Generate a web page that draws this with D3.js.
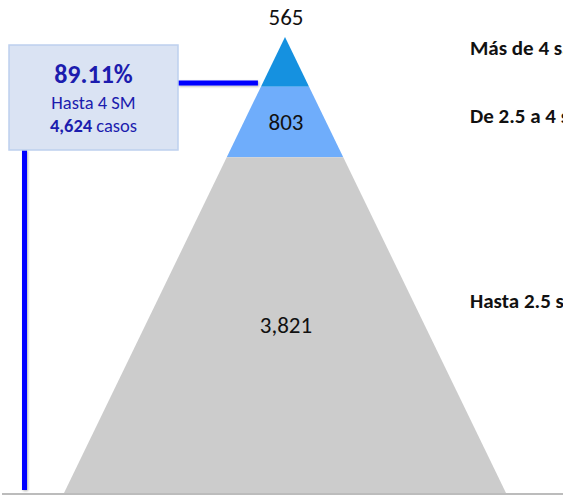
<!DOCTYPE html>
<html>
<head>
<meta charset="utf-8">
<script src="https://cdn.jsdelivr.net/npm/d3@7"></script>
<style>
    html, body { margin: 0; padding: 0; background: #fff; overflow: hidden; }
    svg { display: block; font-family: Carlito, Calibri, Lato, 'Open Sans', sans-serif; }
</style>
</head>
<body>
<div id="chart"></div>
<script>
// Data
const categories = ['Más de 4 salarios mínimos', 'De 2.5 a 4 salarios mínimos', 'Hasta 2.5 salarios mínimos']
const values = [565, 803, 3821]
const colors = ['#1591e0', '#6fadfb', '#cccccc']
const summaryLabel = 'Hasta 4 SM'

const width = 563
const height = 495

// Layout
const apexY = 37
const baseY = 493
const centerX = 285
const baseHalfWidth = 221
const labelDy = [-7, 1, -17]

const total = d3.sum(values)
const cumulative = d3.cumsum([0].concat(values))

const yScale = d3.scaleLinear()
    .domain([0, total])
    .range([apexY, baseY])
const halfWidth = d3.scaleLinear()
    .domain([0, total])
    .range([0, baseHalfWidth])

const svg = d3.select('#chart')
    .append('svg')
    .attr('width', width)
    .attr('height', height)

// Soft shadow for the connector lines (user space, lines have no bbox height)
svg.append('defs')
    .append('filter')
    .attr('id', 'shadow')
    .attr('filterUnits', 'userSpaceOnUse')
    .attr('x', 0).attr('y', 0)
    .attr('width', width).attr('height', height)
    .append('feDropShadow')
    .attr('dx', 1).attr('dy', 1)
    .attr('stdDeviation', 1)
    .attr('flood-color', '#000')
    .attr('flood-opacity', 0.3)

// Pyramid bands
const bands = values.map((v, i) => ({
    value: v,
    category: categories[i],
    color: colors[i],
    c0: cumulative[i],
    c1: cumulative[i + 1]
}))

svg.selectAll('.band')
    .data(bands)
    .enter()
    .append('polygon')
    .attr('class', 'band')
    .attr('points', d => [
        [centerX - halfWidth(d.c0), yScale(d.c0)],
        [centerX + halfWidth(d.c0), yScale(d.c0)],
        [centerX + halfWidth(d.c1), yScale(d.c1)],
        [centerX - halfWidth(d.c1), yScale(d.c1)]
    ].map(p => p.join(',')).join(' '))
    .attr('fill', d => d.color)

// Value labels (top one sits above the apex)
svg.selectAll('.value-label')
    .data(bands)
    .enter()
    .append('text')
    .attr('class', 'value-label')
    .attr('x', centerX + 1)
    .attr('y', (d, i) => i === 0 ? yScale(0) - 12 : (yScale(d.c0) + yScale(d.c1)) / 2 + 8)
    .attr('text-anchor', 'middle')
    .attr('font-size', 23)
    .attr('fill', '#111')
    .text(d => d3.format(',')(d.value))

// Category labels on the right
svg.selectAll('.cat-label')
    .data(bands)
    .enter()
    .append('text')
    .attr('class', 'cat-label')
    .attr('x', 470)
    .attr('y', (d, i) => (yScale(d.c0) + yScale(d.c1)) / 2 + labelDy[i])
    .attr('font-size', 21)
    .attr('font-weight', 'bold')
    .attr('fill', '#111')
    .text(d => d.category)

// Baseline
svg.append('line')
    .attr('x1', 2).attr('x2', width)
    .attr('y1', baseY + 1).attr('y2', baseY + 1)
    .attr('stroke', '#a6a6a6')
    .attr('stroke-width', 1.5)

// Summary box for the lower two bands
const summaryCount = values[1] + values[2]
const summaryShare = summaryCount / total

const box = { x: 9, y: 45, w: 169, h: 105 }
const connectY = 83

svg.append('line')
    .attr('x1', box.x + box.w).attr('x2', centerX - halfWidth(cumulative[1]) - 3)
    .attr('y1', connectY).attr('y2', connectY)
    .attr('stroke', '#0000ff')
    .attr('stroke-width', 5)
    .attr('filter', 'url(#shadow)')

svg.append('line')
    .attr('x1', 24.5).attr('x2', 24.5)
    .attr('y1', box.y + box.h).attr('y2', 490)
    .attr('stroke', '#0000ff')
    .attr('stroke-width', 5)
    .attr('filter', 'url(#shadow)')

svg.append('rect')
    .attr('x', box.x).attr('y', box.y)
    .attr('width', box.w).attr('height', box.h)
    .attr('fill', '#dae3f3')
    .attr('stroke', '#bdd0ee')
    .attr('stroke-width', 1.5)

const boxCx = box.x + box.w / 2
svg.append('text')
    .attr('x', boxCx).attr('y', 83)
    .attr('text-anchor', 'middle')
    .attr('font-size', 26)
    .attr('font-weight', 'bold')
    .attr('fill', '#1c1cae')
    .text(d3.format('.2f')(summaryShare * 100) + '%')

svg.append('text')
    .attr('x', boxCx).attr('y', 109)
    .attr('text-anchor', 'middle')
    .attr('font-size', 18.5)
    .attr('fill', '#1c1cae')
    .text(summaryLabel)

const countText = svg.append('text')
    .attr('x', boxCx).attr('y', 132)
    .attr('text-anchor', 'middle')
    .attr('font-size', 18.5)
    .attr('fill', '#1c1cae')
countText.append('tspan')
    .attr('font-weight', 'bold')
    .text(d3.format(',')(summaryCount))
countText.append('tspan')
    .text(' casos')
</script>
</body>
</html>
